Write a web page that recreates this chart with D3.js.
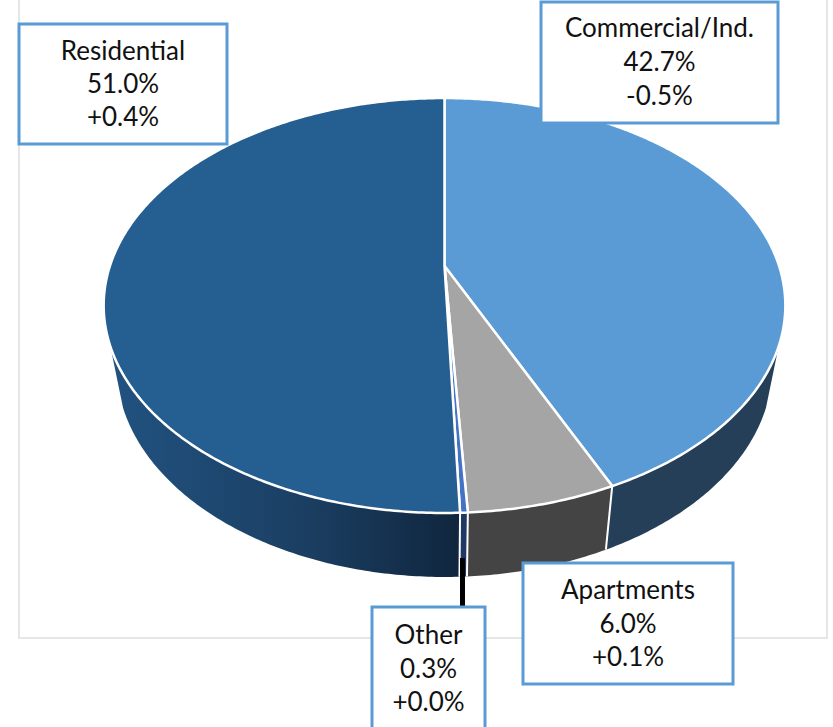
<!DOCTYPE html>
<html>
<head>
<meta charset="utf-8">
<script src="https://cdn.jsdelivr.net/npm/d3@7"></script>
<style>
  html, body { margin: 0; padding: 0; background: #fff; }
  svg { display: block; }
  text { font-family: Lato, "Open Sans", sans-serif; fill: #111; text-anchor: middle; }
</style>
</head>
<body>
<div id="chart"></div>
<script>
var categories = ["Commercial/Ind.", "Apartments", "Other", "Residential"];
var shareLabels = ["42.7%", "6.0%", "0.3%", "51.0%"];
var changeLabels = ["-0.5%", "+0.1%", "+0.0%", "+0.4%"];
// slice sizes as measured on the drawn pie, they differ a little from the labels
var sliceValues = [43.2, 5.9, 0.3, 50.6];

var topColors = ["#5b9bd5", "#a5a5a5", "#4472c4", "#255e91"];
var wallColors = ["#243f57", "#444444", "#1f3864", "url(#residentialWall)"];

var svgWidth = 833;
var svgHeight = 727;

// label boxes, same order as categories
var boxes = [
  { x: 541, y: 2, w: 237, h: 121, lines: [37, 71, 105] },
  { x: 523, y: 563, w: 210, h: 121, lines: [599, 633, 666] },
  { x: 372, y: 607, w: 113, h: 130, lines: [644, 678, 711] },
  { x: 19, y: 24, w: 208, h: 120, lines: [60, 93, 126] }
];

// the pie is seen in perspective, so the apex sits above the middle of the ellipse.
// u,v is a point on the unit circle, x and y are divided by the same depth term
var persp = -0.1904;
var topFace = { cx: 444.5, a: 149.3, b: 266, d: 334.6 };
var lowFace = { cx: 444.5, a: 141.3, b: 325.8, d: 322 };

function rimPoint(face, angle) {
  var u = Math.sin(angle);
  var v = -Math.cos(angle);
  var w = 1 + persp * v;
  return [face.cx + face.d * u / w, (face.a * v + face.b) / w];
}

function rimPoints(face, start, end) {
  var n = Math.max(2, Math.ceil((end - start) / 0.01));
  return d3.range(n + 1).map(function(i) {
    return rimPoint(face, start + (end - start) * i / n);
  });
}

var svg = d3.select("#chart")
  .append("svg")
  .attr("width", svgWidth)
  .attr("height", svgHeight);

var grad = svg.append("defs").append("linearGradient")
  .attr("id", "residentialWall")
  .attr("gradientUnits", "userSpaceOnUse")
  .attr("x1", 110).attr("y1", 0)
  .attr("x2", 460).attr("y2", 0);
grad.append("stop").attr("offset", "0%").attr("stop-color", "#215280");
grad.append("stop").attr("offset", "55%").attr("stop-color", "#1b3f63");
grad.append("stop").attr("offset", "100%").attr("stop-color", "#10263e");

// chart frame, its top edge is cut off by the picture
svg.append("rect")
  .attr("x", 19)
  .attr("y", -10)
  .attr("width", 808)
  .attr("height", 648)
  .attr("fill", "#fff")
  .attr("stroke", "#e6e6e6")
  .attr("stroke-width", 2);

var pie = d3.pie().sort(null).value(d => d);
var slices = pie(sliceValues);
var line = d3.line();

// only this part of the side wall faces the viewer
var wallStart = 112 * Math.PI / 180;
var wallEnd = 248 * Math.PI / 180;

// side walls
slices.forEach(function(d, i) {
  var start = Math.max(d.startAngle, wallStart);
  var end = Math.min(d.endAngle, wallEnd);
  if (end <= start) return;
  var pts = rimPoints(topFace, start, end).concat(rimPoints(lowFace, start, end).reverse());
  svg.append("path")
    .attr("d", line(pts) + "Z")
    .attr("fill", wallColors[i]);
});

// white edges between the walls
slices.forEach(function(d) {
  var a = d.endAngle;
  if (a <= wallStart || a >= wallEnd) return;
  svg.append("path")
    .attr("d", line([rimPoint(topFace, a), rimPoint(lowFace, a)]))
    .attr("stroke", "#fff")
    .attr("stroke-width", 2)
    .attr("fill", "none");
});

// top faces
slices.forEach(function(d, i) {
  var pts = [[topFace.cx, topFace.b]].concat(rimPoints(topFace, d.startAngle, d.endAngle));
  svg.append("path")
    .attr("d", line(pts) + "Z")
    .attr("fill", topColors[i])
    .attr("stroke", "#fff")
    .attr("stroke-width", 2.5)
    .attr("stroke-linejoin", "round");
});

// leader line of the Other label
svg.append("line")
  .attr("x1", 462.5)
  .attr("y1", 558)
  .attr("x2", 462.5)
  .attr("y2", 608)
  .attr("stroke", "#000")
  .attr("stroke-width", 5);

// labels
categories.forEach(function(name, i) {
  var b = boxes[i];
  svg.append("rect")
    .attr("x", b.x)
    .attr("y", b.y)
    .attr("width", b.w)
    .attr("height", b.h)
    .attr("fill", "#fff")
    .attr("stroke", "#5b9bd5")
    .attr("stroke-width", 3);
  [name, shareLabels[i], changeLabels[i]].forEach(function(t, j) {
    svg.append("text")
      .attr("x", b.x + b.w / 2)
      .attr("y", b.lines[j])
      .attr("font-size", 26)
      .text(t);
  });
});
</script>
</body>
</html>
